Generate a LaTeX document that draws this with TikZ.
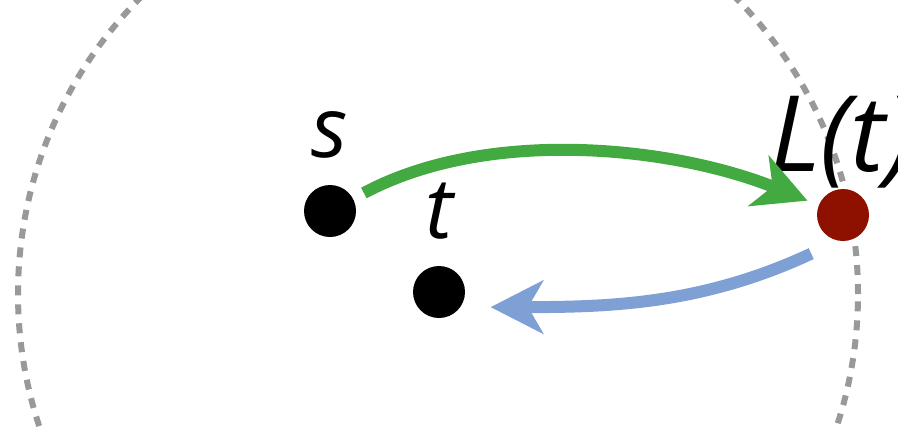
\documentclass[tikz,border=0pt]{standalone}
\usepackage{fontspec}
\setmainfont{Open Sans}
\usetikzlibrary{positioning,arrows.meta}
\definecolor{ringgray}{HTML}{999999}
\definecolor{fwdgreen}{HTML}{43AA41}
\definecolor{backblue}{HTML}{7EA0D4}
\definecolor{lossred}{HTML}{8E1100}
\tikzset{
  dot/.style={circle, fill=black, inner sep=0pt, minimum size=1.04cm},
  lbl/.style={inner sep=0pt, font=\fontsize{48}{50}\selectfont\itshape},
  ring/.style={draw=ringgray, line width=0.12cm, dash pattern=on 0.2cm off 0.18cm},
  fwd/.style={draw=fwdgreen, line width=0.24cm, -{Stealth[length=1.05cm, width=1.08cm, inset=0.3cm]}, shorten <=0.24cm, shorten >=0.24cm},
  back/.style={draw=backblue, line width=0.24cm, -{Stealth[length=1.05cm, width=1.06cm, inset=0.3cm]}, shorten <=0.6cm, shorten >=0.6cm}
}
\begin{document}
\begin{tikzpicture}[on grid]
\useasboundingbox (0,0) rectangle (17.96,-8.54);
\clip (0,0) rectangle (17.96,-8.54);
\coordinate (ctr) at (8.76,-5.88);
\draw[ring] (ctr) circle[radius=8.4cm];
\node (s) [dot] at (6.60,-4.22) {};
\node (t) [dot, below right=1.62cm and 2.18cm of s] {};
\node (L) [dot, fill=lossred, below right=0.08cm and 10.26cm of s] {};
\node (slabel) [lbl, above=0.52cm of s.north, anchor=south, on grid=false] {s};
\node (tlabel) [lbl, above=0.52cm of t.north, anchor=south, on grid=false] {t};
\node (Llabel) [lbl, font=\fontsize{60}{62}\selectfont\itshape, above=0pt of L.north, anchor=south, on grid=false] {L(t)};
\draw[fwd] (s) to[out=28, in=158, looseness=0.85] (L);
\draw[back] (L.260) to[out=205, in=0] (t.-35);
\end{tikzpicture}
\end{document}
